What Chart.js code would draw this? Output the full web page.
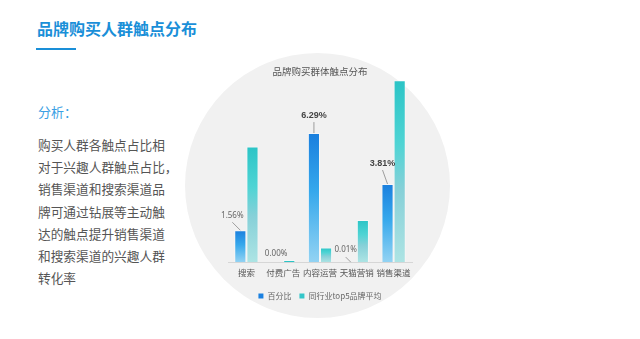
<!DOCTYPE html>
<html>
<head>
<meta charset="utf-8">
<script src="https://cdn.jsdelivr.net/npm/chart.js@4/dist/chart.umd.min.js"></script>
<style>
  body { margin: 0; width: 640px; height: 339px; background: #fff; overflow: hidden; position: relative;
         font-family: "Noto Sans CJK SC", "Noto Sans", sans-serif; }
  .page-title { position: absolute; left: 37px; top: 18px; line-height: 20px; font-size: 16px; font-weight: bold; color: #1a8fd8; }
  .title-bar { position: absolute; left: 36px; top: 48px; width: 40px; height: 2px; background: #1a8fd8; }
  .note-head { position: absolute; left: 38px; top: 104px; line-height: 16px; font-size: 13px; color: #3a9fe4; }
  .note { position: absolute; left: 38px; top: 134px; line-height: 22.2px; font-size: 12.7px; color: #555; white-space: nowrap; }
  .disc { position: absolute; left: 185px; top: 53px; width: 265px; height: 265px; border-radius: 50%; background: #f1f1f1; }
  .chart-box { position: absolute; left: 200px; top: 60px; width: 240px; height: 250px; }
</style>
</head>
<body>
<div class="page-title">品牌购买人群触点分布</div>
<div class="title-bar"></div>
<div class="note-head">分析：</div>
<div class="note">购买人群各触点占比相<br>对于兴趣人群触点占比，<br>销售渠道和搜索渠道品<br>牌可通过钻展等主动触<br>达的触点提升销售渠道<br>和搜索渠道的兴趣人群<br>转化率</div>
<div class="disc"></div>
<div class="chart-box"><canvas id="touch-chart"></canvas></div>
<script>
// touchpoint share (%) per channel
const channels = ['搜索', '付费广告', '内容运营', '天猫营销', '销售渠道'];
const seriesNames = ['百分比', '同行业top5品牌平均'];
const brandShare = [1.56, 0.00, 6.29, 0.01, 3.81];
const top5Average = [5.64, 0.11, 0.72, 2.06, 8.86];

// label offset from the bar top (dx, dy)
const labelOffsets = [[-8, -15], [-1, -9], [0, -18], [-5, -12], [-5, -21]];

const seriesColors = ['#1a80e0', '#34c6c9'];
const gradientStops = [
    [[0, '#1a7fde'], [0.45, '#36a8ec'], [1, '#93d3f3']],
    [[0, '#2bc4c6'], [0.35, '#4fd4d4'], [0.6, '#86d0d8'], [1, '#ade4e4']]
];

function barFill(ctx) {
    let chart = ctx.chart;
    let idx = ctx.datasetIndex;
    if (!chart.chartArea || ctx.type !== 'data') return seriesColors[idx];
    let y = chart.scales.y;
    let top = y.getPixelForValue(ctx.raw);
    let bottom = y.getPixelForValue(0);
    if (bottom - top < 3) return gradientStops[idx][0][1];
    let g = chart.ctx.createLinearGradient(0, top, 0, bottom);
    for (let s of gradientStops[idx]) g.addColorStop(s[0], s[1]);
    return g;
}

// value labels with leader lines for the brand series
const valueLabels = {
    id: 'valueLabels',
    afterDatasetsDraw(chart) {
        let c = chart.ctx;
        let meta = chart.getDatasetMeta(0);
        meta.data.forEach((bar, i) => {
            let v = brandShare[i];
            let [dx, dy] = labelOffsets[i];
            let lx = bar.x + dx, ly = bar.y + dy;
            c.save();
            if (dy <= -12) {
                c.strokeStyle = '#888';
                c.lineWidth = 0.8;
                c.beginPath();
                c.moveTo(lx, ly + 7);
                c.lineTo(bar.x, bar.y);
                c.stroke();
            }
            let strong = v > 3;
            c.font = strong ? 'bold 9px "Liberation Sans", Arial, sans-serif' : '8px "Noto Sans", sans-serif';
            c.fillStyle = strong ? '#444' : '#666';
            c.textAlign = 'center';
            c.textBaseline = 'middle';
            c.fillText(v.toFixed(2) + '%', lx, ly);
            c.restore();
        });
    }
};

const cjk = '"Noto Sans CJK SC", "Noto Sans", sans-serif';

new Chart(document.getElementById('touch-chart'), {
    type: 'bar',
    data: {
        labels: channels,
        datasets: [
            { label: seriesNames[0], data: brandShare, backgroundColor: barFill,
              borderColor: 'rgba(255,255,255,0.45)', borderWidth: 1 },
            { label: seriesNames[1], data: top5Average, backgroundColor: barFill,
              borderColor: 'rgba(255,255,255,0.45)', borderWidth: 1 }
        ]
    },
    options: {
        responsive: true,
        maintainAspectRatio: false,
        animation: false,
        categoryPercentage: 0.66,
        barPercentage: 1.0,
        layout: { padding: { left: 28, right: 28, top: 0, bottom: 0 } },
        scales: {
            x: {
                grid: { display: false, drawTicks: false },
                border: { color: '#d6d6d6' },
                ticks: { color: '#555', font: { family: cjk, size: 8.5 }, padding: 5,
                         maxRotation: 0, autoSkip: false },
                afterFit: (scale) => { scale.height += 1.5; }
            },
            y: { display: false, min: 0, max: 9 }
        },
        plugins: {
            title: {
                display: true,
                text: '品牌购买群体触点分布',
                color: '#555',
                font: { family: cjk, size: 9.5, weight: 'normal' },
                padding: { top: 6, bottom: 0 }
            },
            legend: {
                position: 'bottom',
                labels: {
                    color: '#666',
                    font: { family: cjk, size: 8 },
                    boxWidth: 5,
                    boxHeight: 5,
                    padding: 8,
                    generateLabels: (chart) => {
                        let items = Chart.defaults.plugins.legend.labels.generateLabels(chart);
                        items.forEach((it, i) => {
                            it.fillStyle = seriesColors[i];
                            it.strokeStyle = seriesColors[i];
                            it.lineWidth = 0;
                        });
                        return items;
                    }
                }
            },
            tooltip: { enabled: false }
        }
    },
    plugins: [valueLabels]
});
</script>
</body>
</html>
